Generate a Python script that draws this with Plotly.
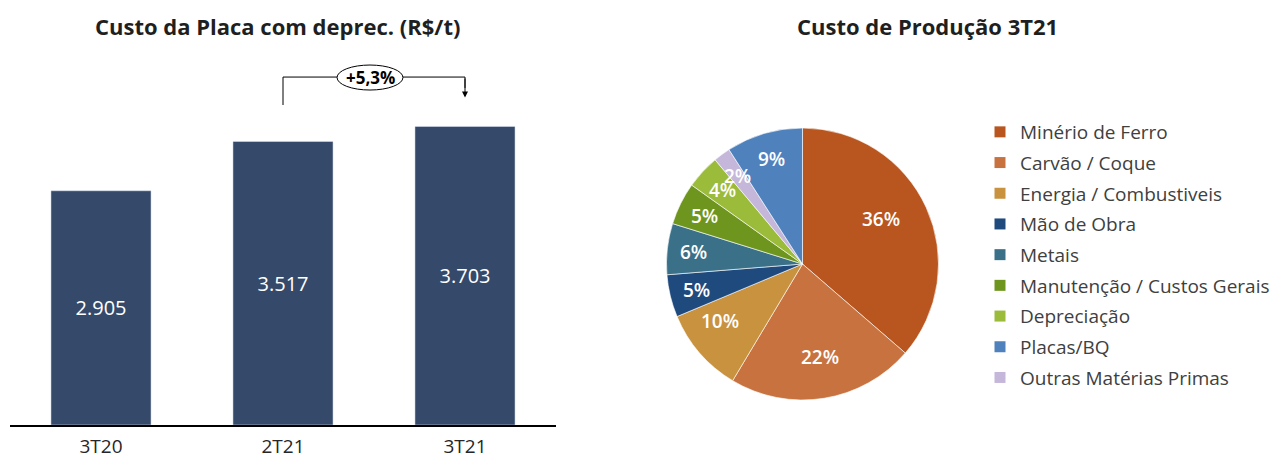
import math
import plotly.graph_objects as go

# Bar chart data
bar_cats = ["3T20", "2T21", "3T21"]
bar_vals = [2905, 3517, 3703]
bar_text = ["2.905", "3.517", "3.703"]
var_label = "+5,3%"

# Pie chart data (clockwise from 12 o'clock)
pie_labels = ["Minério de Ferro", "Carvão / Coque", "Energia / Combustiveis", "Mão de Obra",
              "Metais", "Manutenção / Custos Gerais", "Depreciação", "Outras Matérias Primas", "Placas/BQ"]
pie_vals = [36, 22, 10, 5, 6, 5, 4, 2, 9]
pie_colors = ["#B9561F", "#C8733F", "#C9923F", "#1F4A7E", "#3A7189", "#6E961F", "#9BBB3B", "#C5B7DA", "#4F81BD"]
legend_order = ["Minério de Ferro", "Carvão / Coque", "Energia / Combustiveis", "Mão de Obra",
                "Metais", "Manutenção / Custos Gerais", "Depreciação", "Placas/BQ", "Outras Matérias Primas"]

FONT = "Open Sans"
OFF = 8  # page body margin
W, H = 1282 - OFF, 461 - OFF


def px(p):
    return (p - OFF) / W


def py(p):
    return 1 - (p - OFF) / H


fig = go.Figure()
fig.add_trace(go.Bar(
    x=bar_cats, y=bar_vals, text=bar_text, width=0.55,
    marker=dict(color="#354A6A"),
    textposition="inside", insidetextanchor="middle",
    textfont=dict(color="white", size=20, family=FONT),
    hoverinfo="skip", showlegend=False,
))

PX0, PX1, PY0, PY1 = 666, 939, 128, 400
fig.add_trace(go.Pie(
    labels=pie_labels, values=pie_vals, sort=False, direction="clockwise",
    marker=dict(colors=pie_colors, line=dict(color="white", width=0.6)),
    textinfo="none",
    domain=dict(x=[px(PX0), px(PX1)], y=[py(PY1), py(PY0)]),
    showlegend=False, hoverinfo="label+value",
))

# slice labels placed at each slice's mid-angle (computed from the data)
total = sum(pie_vals)
cum = 0
cx_px, cy_px, R_px = (PX0 + PX1) / 2, (PY0 + PY1) / 2, (PX1 - PX0) / 2
for v in pie_vals:
    ang = 2 * math.pi * (cum + v / 2) / total
    rr = 0.8 * R_px
    lx = cx_px + rr * math.sin(ang)
    ly = cy_px - rr * math.cos(ang)
    fig.add_annotation(x=px(lx), y=py(ly), xref="paper", yref="paper", text=f"{v}%",
                       showarrow=False, font=dict(color="white", size=19, family=FONT, weight=600))
    cum += v

col_map = dict(zip(pie_labels, pie_colors))
for i, lab in enumerate(legend_order):
    fig.add_trace(go.Scatter(
        x=[None], y=[None], mode="markers", name=lab, legendgroup=f"g{i}",
        marker=dict(symbol="square", size=11, color=col_map[lab]),
    ))

# bracket annotation
yb0, yb1, yarr = 3968, 4315, 4060
fig.add_shape(type="path", xref="x", yref="y",
              path=f"M 1,{yb0} L 1,{yb1} L 2,{yb1} L 2,{yarr+120}",
              line=dict(color="black", width=1))
fig.add_annotation(x=2, y=yarr, ax=2, ay=yb1, xref="x", yref="y", axref="x", ayref="y",
                   showarrow=True, arrowhead=2, arrowsize=1.2, arrowwidth=1, arrowcolor="black", text="")
fig.add_shape(type="circle", xref="x", yref="y", x0=1.297, x1=1.659, y0=4154, y1=4464,
              line=dict(color="black", width=1), fillcolor="white", layer="above")
fig.add_annotation(x=1.478, y=4309, xref="x", yref="y", text=f"<b>{var_label}</b>", showarrow=False,
                   font=dict(size=17, family=FONT, color="black"))

fig.add_annotation(x=px(277), y=py(26), xref="paper", yref="paper", xanchor="center", yanchor="middle",
                   text="<b>Custo da Placa com deprec. (R$/t)</b>", showarrow=False,
                   font=dict(size=22, family=FONT, color="#1F1F1F"))
fig.add_annotation(x=px(927), y=py(26), xref="paper", yref="paper", xanchor="center", yanchor="middle",
                   text="<b>Custo de Produção 3T21</b>", showarrow=False,
                   font=dict(size=22, family=FONT, color="#1F1F1F"))

fig.update_layout(
    width=W, height=H, autosize=False,
    margin=dict(l=0, r=0, t=0, b=0, autoexpand=False),
    plot_bgcolor="white", paper_bgcolor="white",
    xaxis=dict(domain=[px(10), px(556)], range=[-0.5, 2.5], showgrid=False, showline=True,
               linecolor="black", linewidth=1.5, ticks="outside", ticklen=3, tickcolor="rgba(0,0,0,0)",
               tickfont=dict(size=19, family=FONT, color="#262626"), fixedrange=True,
               automargin=False),
    yaxis=dict(domain=[py(425), py(46)], range=[0, 4700], visible=False, fixedrange=True,
               automargin=False),
    legend=dict(x=px(980), y=py(113), xanchor="left", yanchor="top",
                font=dict(size=19, family=FONT, color="#404040"), tracegroupgap=3,
                bgcolor="rgba(0,0,0,0)"),
    showlegend=True,
)

fig.write_html("out.html")
